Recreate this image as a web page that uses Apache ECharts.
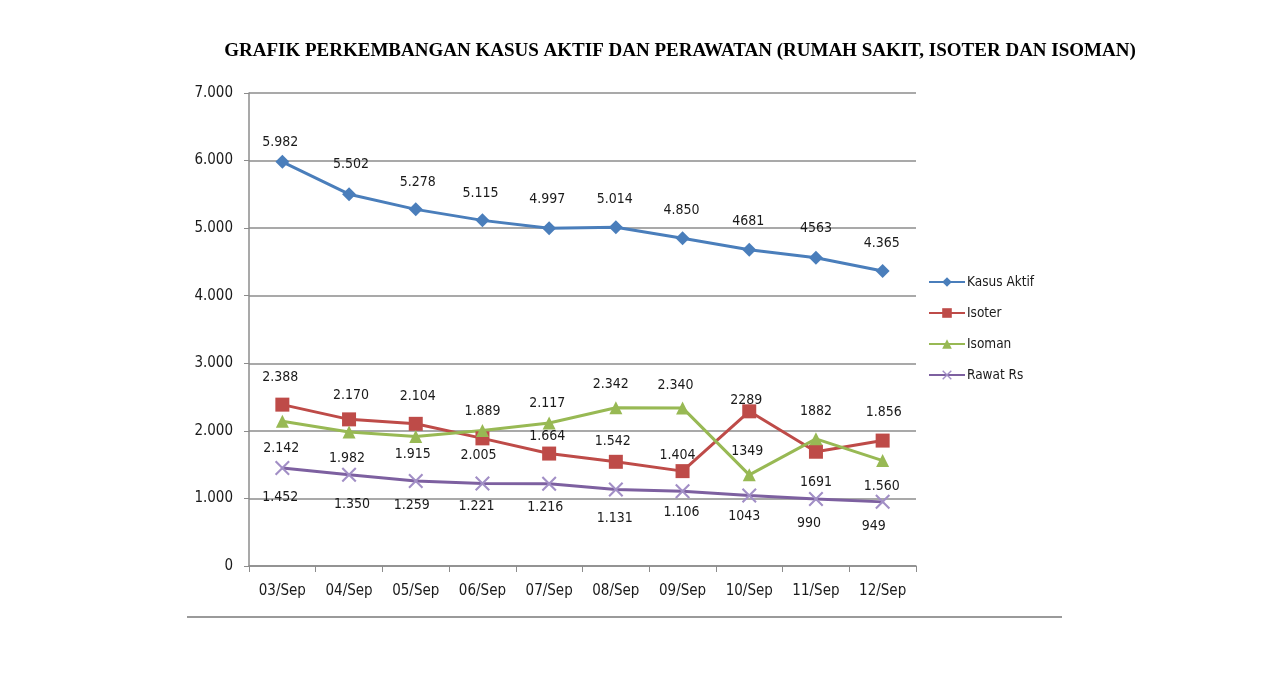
<!DOCTYPE html>
<html>
<head>
<meta charset="utf-8">
<script src="https://cdn.jsdelivr.net/npm/echarts@6/dist/echarts.min.js"></script>
<style>
html, body { margin: 0; padding: 0; background: #fff; }
#main { width: 1280px; height: 686px; }
</style>
</head>
<body>
<div id="main"></div>
<script>
// data
var tanggal = ['03/Sep', '04/Sep', '05/Sep', '06/Sep', '07/Sep', '08/Sep', '09/Sep', '10/Sep', '11/Sep', '12/Sep'];
var kasusAktif = [5982, 5502, 5278, 5115, 4997, 5014, 4850, 4681, 4563, 4365];
var isoter = [2388, 2170, 2104, 1889, 1664, 1542, 1404, 2289, 1691, 1856];
var isoman = [2142, 1982, 1915, 2005, 2117, 2342, 2340, 1349, 1882, 1560];
var rawatRs = [1452, 1350, 1259, 1221, 1216, 1131, 1106, 1043, 990, 949];
var yTicks = [0, 1000, 2000, 3000, 4000, 5000, 6000, 7000];

// index label yang ditulis tanpa titik ribuan (seperti di gambar asli)
var tanpaTitik = {
	'Kasus Aktif': [7, 8],
	'Isoter': [7, 8],
	'Isoman': [7, 8],
	'Rawat Rs': [7, 8, 9]
};

// geser label (px) dari titik, biar mirip posisi di Excel
var geserAktif = [[-2, -19], [2, -30], [2, -27], [-2, -27], [-2, -29], [-1, -28], [-1, -28], [-1, -28], [0, -29], [-1, -28]];
var geserIsoter = [[-2, -27], [2, -24], [2, -27], [0, -27], [-2, -17], [-3, -20], [-5, -16], [-3, -11], [0, 31], [1, -28]];
var geserIsoman = [[-1, 27], [-2, 26], [-3, 18], [-4, 25], [-2, -20], [-5, -23], [-7, -23], [-2, -23], [0, -27], [-1, 26]];
var geserRawat = [[-2, 29], [3, 30], [-4, 24], [-6, 23], [-4, 24], [-1, 29], [-1, 21], [-5, 21], [-7, 24], [-9, 24]];

function titik(v) {
	return String(v).replace(/\B(?=(\d{3})+(?!\d))/g, '.');
}

function isiData(nama, nilai, geser) {
	var hasil = [];
	for (var i = 0; i < nilai.length; i++) {
		var teks = tanpaTitik[nama].indexOf(i) >= 0 ? String(nilai[i]) : titik(nilai[i]);
		hasil.push({
			value: nilai[i],
			label: { offset: geser[i], formatter: teks }
		});
	}
	return hasil;
}

var hurufLabel = {
	show: true,
	position: 'inside',
	color: '#1a1a1a',
	fontSize: 14,
	fontFamily: 'DejaVu Sans Condensed'
};

function seri(nama, nilai, geser, warna, simbol, ukuran, warnaSimbol) {
	return {
		name: nama,
		type: 'line',
		data: isiData(nama, nilai, geser),
		symbol: simbol,
		symbolSize: ukuran,
		showAllSymbol: true,
		lineStyle: { width: 3, color: warna },
		itemStyle: { color: warnaSimbol || warna },
		label: hurufLabel,
		emphasis: { disabled: true },
		z: 3
	};
}

var simbolX = 'path://M0,1L1,0L5,4L9,0L10,1L6,5L10,9L9,10L5,6L1,10L0,9L4,5Z';

var option = {
	animation: false,
	backgroundColor: '#ffffff',
	title: {
		text: 'GRAFIK PERKEMBANGAN KASUS AKTIF DAN PERAWATAN (RUMAH SAKIT, ISOTER DAN ISOMAN)',
		left: 675,
		top: 37,
		textAlign: 'center',
		textStyle: {
			fontFamily: 'Liberation Serif',
			fontWeight: 'bold',
			fontSize: 19,
			color: '#000'
		}
	},
	legend: {
		orient: 'vertical',
		left: 923,
		top: 270,
		itemGap: 17,
		itemWidth: 36,
		itemHeight: 12,
		textStyle: { fontFamily: 'DejaVu Sans Condensed', fontSize: 13.5, color: '#1a1a1a', padding: [0, 0, 0, -3] },
		data: ['Kasus Aktif', 'Isoter', 'Isoman', 'Rawat Rs']
	},
	grid: {
		left: 249,
		right: 364,
		top: 93,
		bottom: 120,
		containLabel: false
	},
	xAxis: {
		type: 'category',
		data: tanggal,
		boundaryGap: true,
		axisLine: { lineStyle: { color: '#8c8c8c', width: 1.5 } },
		axisTick: { show: true, length: 6, alignWithLabel: false, lineStyle: { color: '#8c8c8c' } },
		axisLabel: { margin: 18, fontSize: 15, fontFamily: 'DejaVu Sans Condensed', color: '#1a1a1a' }
	},
	yAxis: {
		type: 'value',
		min: yTicks[0],
		max: yTicks[yTicks.length - 1],
		interval: 1000,
		axisLine: { show: true, lineStyle: { color: '#8c8c8c', width: 1.5 } },
		axisTick: { show: true, length: 5, lineStyle: { color: '#8c8c8c' } },
		splitLine: { lineStyle: { color: '#8c8c8c', width: 1.5 } },
		axisLabel: {
			margin: 16,
			fontSize: 15,
			fontFamily: 'DejaVu Sans Condensed',
			color: '#1a1a1a',
			formatter: function (v) { return titik(v); }
		}
	},
	graphic: [
		{
			type: 'line',
			shape: { x1: 187, y1: 617, x2: 1062, y2: 617 },
			style: { stroke: '#9a9a9a', lineWidth: 2 }
		}
	],
	series: [
		seri('Kasus Aktif', kasusAktif, geserAktif, '#4A7EBB', 'diamond', 14),
		seri('Isoter', isoter, geserIsoter, '#BE4B48', 'rect', 14),
		seri('Isoman', isoman, geserIsoman, '#98B954', 'triangle', 13),
		seri('Rawat Rs', rawatRs, geserRawat, '#7D60A0', simbolX, 15, '#a28fc6')
	]
};

var chart = echarts.init(document.getElementById('main'));
chart.setOption(option);
</script>
</body>
</html>
